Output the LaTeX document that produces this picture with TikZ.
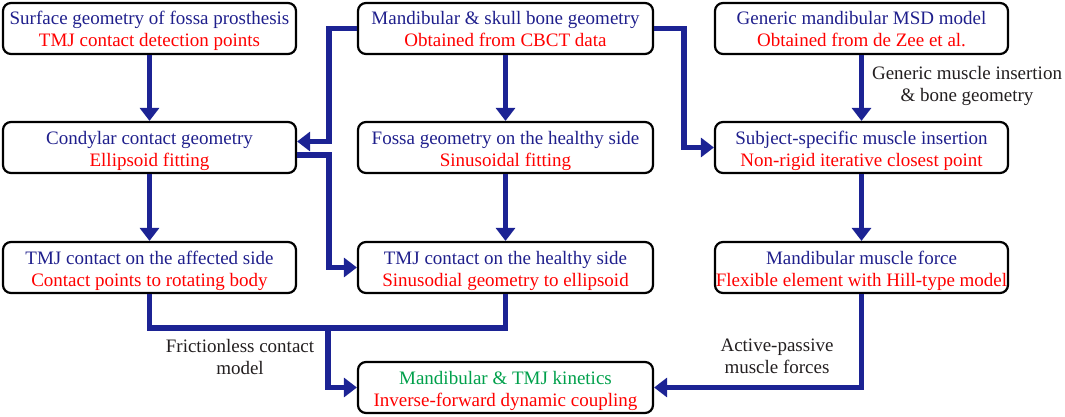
\documentclass[tikz,border=0pt]{standalone}
\usepackage{fontspec}
\setmainfont{Liberation Serif}
\usetikzlibrary{arrows.meta,positioning}

\begin{document}
\begin{tikzpicture}[x=1pt,y=-1pt,line cap=rect,
	stage/.style={draw=black, line width=2.2pt, rounded corners=8pt, minimum width=293pt, minimum height=51pt, inner sep=0, align=center, font=\fontsize{19pt}{22pt}\selectfont, text height=42pt, text depth=5pt},
	wire/.style={line width=5.5pt, line cap=butt, line join=miter, custcol_1c2394},
	flow/.style={wire, -{Triangle[length=13pt,width=19pt]}},
	note/.style={inner sep=0, align=center, custcol_231f20, font=\fontsize{19pt}{22pt}\selectfont}]
	\definecolor{custcol_1f1f8c}{RGB}{31, 31, 140}
	\definecolor{custcol_1c2394}{RGB}{28, 35, 148}
	\definecolor{custcol_ff0000}{RGB}{255, 0, 0}
	\definecolor{custcol_00a04b}{RGB}{0, 160, 75}
	\definecolor{custcol_231f20}{RGB}{35, 31, 32}
	\useasboundingbox (0,0) rectangle (1065,417);
	% boxes
	\node[stage] (surf) at (149.5,28.5) {\textcolor{custcol_1f1f8c}{Surface geometry of fossa prosthesis}\\\textcolor{custcol_ff0000}{TMJ contact detection points}};
	\node[stage, minimum width=295pt] (bone) at (505.5,28.5) {\textcolor{custcol_1f1f8c}{Mandibular \& skull bone geometry}\\\textcolor{custcol_ff0000}{Obtained from CBCT data}};
	\node[stage] (gen) at (861.5,28.5) {\textcolor{custcol_1f1f8c}{Generic mandibular MSD model}\\\textcolor{custcol_ff0000}{Obtained from de Zee et al.}};
	\node[stage] (cond) at (149.5,147.5) {\textcolor{custcol_1f1f8c}{Condylar contact geometry}\\\textcolor{custcol_ff0000}{Ellipsoid fitting}};
	\node[stage, minimum width=295pt] (fossa) at (505.5,147.5) {\textcolor{custcol_1f1f8c}{Fossa geometry on the healthy side}\\\textcolor{custcol_ff0000}{Sinusoidal fitting}};
	\node[stage] (subj) at (861.5,147.5) {\textcolor{custcol_1f1f8c}{Subject-specific muscle insertion}\\\textcolor{custcol_ff0000}{Non-rigid iterative closest point}};
	\node[stage] (affect) at (149.5,267.5) {\textcolor{custcol_1f1f8c}{TMJ contact on the affected side}\\\textcolor{custcol_ff0000}{Contact points to rotating body}};
	\node[stage, minimum width=295pt] (healthy) at (505.5,267.5) {\textcolor{custcol_1f1f8c}{TMJ contact on the healthy side}\\\textcolor{custcol_ff0000}{Sinusodial geometry to ellipsoid}};
	\node[stage] (force) at (861.5,267.5) {\textcolor{custcol_1f1f8c}{Mandibular muscle force}\\\textcolor{custcol_ff0000}{Flexible element with Hill-type model}};
	\node[stage, minimum width=295pt] (kin) at (505.5,387.5) {\textcolor{custcol_00a04b}{Mandibular \& TMJ kinetics}\\\textcolor{custcol_ff0000}{Inverse-forward dynamic coupling}};
	% connectors
	\draw[flow] (surf) -- (cond);
	\draw[flow] (bone) -- (fossa);
	\draw[flow] (bone.west) -- ++(-28,0) |- ([yshift=6pt]cond.east);
	\draw[flow] (bone.east) -- ++(30,0) |- (subj.west);
	\draw[flow] ([yshift=-7.5pt]cond.east) -- ++(32,0) |- (healthy.west);
	\draw[flow] (gen) -- (subj);
	\draw[flow] (subj) -- (force);
	\draw[flow] (cond) -- (affect);
	\draw[flow] (fossa) -- (healthy);
	\coordinate (jn) at (328,328);
	\draw[wire] (affect.south) |- (jn) -| (healthy.south);
	\draw[flow] (jn) |- (kin.west);
	\draw[flow] (force.south) |- (kin.east);
	% labels
	\node[note] (lblgen) at (967,86) {Generic muscle insertion\\\& bone geometry};
	\node[note] (lblfric) at (240,357) {Frictionless contact\\model};
	\node[note] (lblact) at (777,356) {Active-passive\\muscle forces};
\end{tikzpicture}
\end{document}
